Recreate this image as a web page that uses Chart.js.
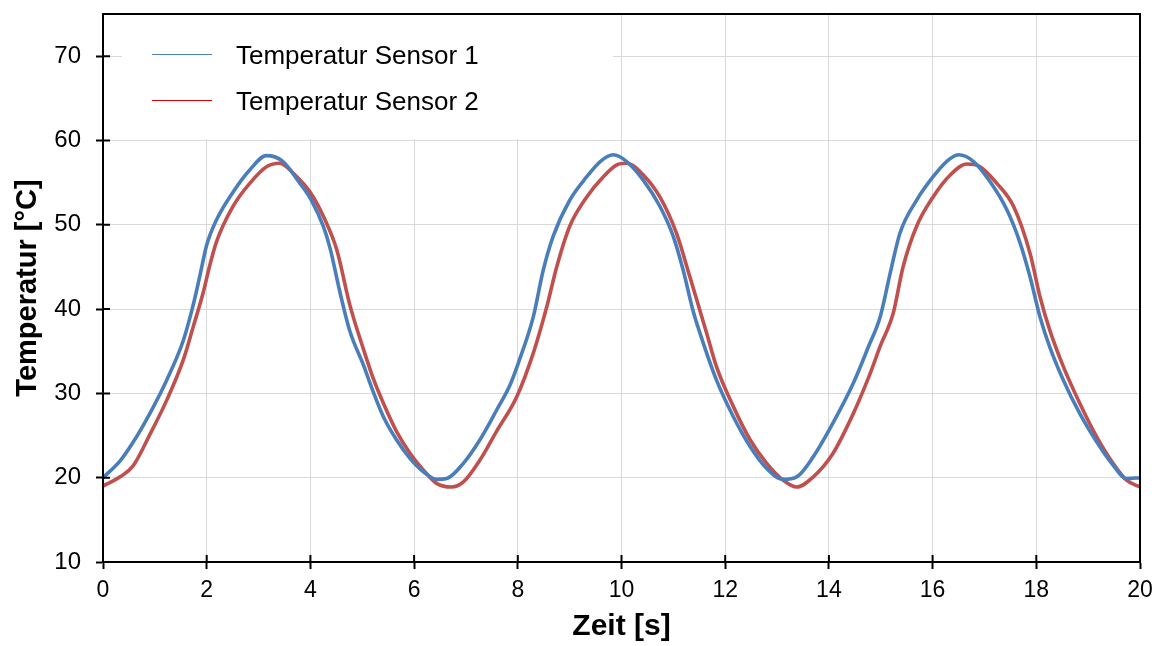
<!DOCTYPE html>
<html>
<head>
<meta charset="utf-8">
<script src="https://cdn.jsdelivr.net/npm/chart.js@4"></script>
<style>
  html, body { margin: 0; padding: 0; background: #fff; }
  #wrap { width: 1160px; height: 646px; }
</style>
</head>
<body>
<div id="wrap"><canvas id="tempChart" width="1160" height="646"></canvas></div>
<script>
// Zeitpunkte [s] und Temperaturen [°C]
const zeit1 = [0, 0.33, 0.58, 0.91, 1.23, 1.55, 1.74, 1.87, 2.0, 2.19, 2.51, 2.83, 3.15, 3.45, 3.8, 4.02, 4.25, 4.38, 4.57, 4.76, 5.02, 5.21, 5.41, 5.66, 5.92, 6.18, 6.44, 6.63, 6.95, 7.27, 7.59, 7.85, 8.01, 8.3, 8.49, 8.68, 9.0, 9.33, 9.59, 9.84, 10.1, 10.42, 10.74, 11.0, 11.19, 11.38, 11.51, 11.83, 12.16, 12.48, 12.8, 13.12, 13.38, 13.7, 14.08, 14.47, 14.76, 14.99, 15.18, 15.37, 15.69, 16.01, 16.27, 16.5, 16.79, 17.11, 17.43, 17.69, 17.88, 18.07, 18.26, 18.52, 18.84, 19.16, 19.48, 19.74, 20];
const sensor1 = [20.0, 22.0, 24.2, 27.7, 31.6, 36.3, 40.5, 44.0, 47.6, 50.6, 53.9, 56.5, 58.2, 57.6, 54.9, 52.9, 49.8, 47.2, 42.0, 37.4, 33.4, 30.2, 27.2, 24.5, 22.3, 20.7, 19.8, 19.9, 21.7, 24.5, 28.0, 31.0, 33.6, 39.1, 44.6, 48.6, 52.9, 55.7, 57.5, 58.3, 57.5, 55.3, 52.2, 48.6, 44.6, 39.8, 37.2, 31.6, 27.2, 23.7, 21.1, 19.8, 20.1, 22.5, 26.5, 31.2, 35.5, 39.1, 44.2, 49.0, 52.9, 55.7, 57.5, 58.3, 57.5, 55.1, 51.8, 47.8, 43.8, 39.1, 35.5, 31.6, 27.6, 24.3, 21.5, 19.9, 20.0];

const zeit2 = [0, 0.33, 0.58, 0.91, 1.23, 1.55, 1.74, 1.93, 2.06, 2.19, 2.51, 2.83, 3.16, 3.41, 3.67, 3.99, 4.25, 4.51, 4.76, 5.02, 5.21, 5.41, 5.66, 5.92, 6.18, 6.44, 6.72, 6.95, 7.27, 7.59, 7.98, 8.3, 8.56, 8.75, 9.0, 9.33, 9.65, 9.91, 10.1, 10.42, 10.74, 11.06, 11.32, 11.64, 11.83, 12.16, 12.48, 12.8, 13.12, 13.38, 13.7, 14.08, 14.47, 14.76, 14.99, 15.24, 15.43, 15.69, 16.01, 16.34, 16.66, 16.91, 17.24, 17.56, 17.88, 18.07, 18.26, 18.52, 18.84, 19.16, 19.48, 19.74, 20];
const sensor2 = [19.0, 20.1, 21.4, 25.2, 29.2, 34.0, 37.9, 41.9, 45.2, 48.0, 52.2, 54.9, 56.9, 57.3, 56.1, 53.9, 51.0, 47.0, 40.5, 35.3, 31.8, 28.8, 25.5, 22.9, 20.9, 19.3, 18.9, 19.5, 22.1, 25.5, 29.6, 34.8, 40.3, 45.0, 49.8, 53.3, 55.7, 57.1, 57.3, 55.9, 53.3, 49.0, 43.8, 37.2, 33.2, 28.4, 24.5, 21.7, 19.7, 18.9, 20.1, 22.9, 27.6, 31.8, 35.6, 39.5, 45.0, 49.8, 53.3, 55.9, 57.2, 56.9, 54.9, 52.2, 46.6, 41.5, 37.5, 33.2, 28.8, 24.9, 21.7, 19.7, 18.9];

const labels = ['Temperatur Sensor 1', 'Temperatur Sensor 2'];
const legendColors = ['#4f81bd', '#e00000'];

const FONT = '"Liberation Sans", Arial, sans-serif';

// Ticks laufen im Original über die Achse hinweg -> inneren Teil nachzeichnen, Rahmen oben/rechts
const frameTicks = {
  id: 'frameTicks',
  afterDraw(chart) {
    const { ctx, chartArea: a, scales } = chart;
    ctx.save();
    ctx.strokeStyle = '#000';
    ctx.lineWidth = 2;
    ctx.beginPath();
    scales.x.ticks.forEach(t => {
      const px = scales.x.getPixelForValue(t.value);
      ctx.moveTo(px, a.bottom);
      ctx.lineTo(px, a.bottom - 7);
    });
    scales.y.ticks.forEach(t => {
      const py = scales.y.getPixelForValue(t.value);
      ctx.moveTo(a.left, py);
      ctx.lineTo(a.left + 7, py);
    });
    ctx.stroke();
    ctx.strokeRect(a.left, a.top, a.right - a.left, a.bottom - a.top);
    ctx.restore();
  }
};

// Legende innerhalb der Zeichenfläche mit weißem Hintergrund
const innerLegend = {
  id: 'innerLegend',
  beforeDatasetsDraw(chart) {
    const { ctx, chartArea: a } = chart;
    ctx.save();
    ctx.fillStyle = '#fff';
    ctx.fillRect(a.left + 19, a.top + 1, 491, 124);
    ctx.font = '26px ' + FONT;
    ctx.textBaseline = 'middle';
    labels.forEach((lab, i) => {
      const y = Math.round(a.top + 40 + i * 46) + 0.5;
      ctx.strokeStyle = legendColors[i];
      ctx.lineWidth = 1;
      ctx.beginPath();
      ctx.moveTo(a.left + 49, y);
      ctx.lineTo(a.left + 109, y);
      ctx.stroke();
      ctx.fillStyle = '#000';
      ctx.fillText(lab, a.left + 133, y + 2);
    });
    ctx.restore();
  }
};

const ctx = document.getElementById('tempChart').getContext('2d');
new Chart(ctx, {
  type: 'line',
  data: {
    datasets: [
      {
        label: labels[0],
        data: zeit1.map((t, i) => ({ x: t, y: sensor1[i] })),
        borderColor: '#4a7ebb',
        borderWidth: 3.6
      },
      {
        label: labels[1],
        data: zeit2.map((t, i) => ({ x: t, y: sensor2[i] })),
        borderColor: '#c0504d',
        borderWidth: 3.6
      }
    ]
  },
  options: {
    responsive: false,
    animation: false,
    layout: { padding: { top: 14, right: 20, left: 0, bottom: 0 } },
    elements: {
      point: { radius: 0 },
      line: { tension: 0.4, cubicInterpolationMode: 'monotone', fill: false }
    },
    plugins: {
      legend: { display: false },
      tooltip: { enabled: false }
    },
    scales: {
      x: {
        type: 'linear',
        min: 0,
        max: 20,
        afterFit: s => { s.height = 84; s.paddingLeft = 0; s.paddingRight = 0; },
        ticks: { stepSize: 2, color: '#000', padding: 8, font: { family: FONT, size: 23 } },
        grid: { color: '#d9d9d9', lineWidth: 1, tickColor: '#000', tickLength: 7, tickWidth: 2 },
        border: { color: '#000', width: 2 },
        title: {
          display: true,
          text: 'Zeit [s]',
          color: '#000',
          padding: { top: 0, bottom: 1 },
          font: { family: FONT, size: 30, weight: 'bold' }
        }
      },
      y: {
        min: 10,
        max: 75,
        afterFit: s => { s.width = 103; s.paddingTop = 0; s.paddingBottom = 0; },
        afterBuildTicks: s => { s.ticks = s.ticks.filter(t => t.value % 10 === 0); },
        ticks: { stepSize: 10, color: '#000', padding: 15, font: { family: FONT, size: 24 } },
        grid: { color: '#d9d9d9', lineWidth: 1, tickColor: '#000', tickLength: 7, tickWidth: 2 },
        border: { color: '#000', width: 2 },
        title: {
          display: true,
          text: 'Temperatur [°C]',
          color: '#000',
          padding: { top: 11, bottom: 0 },
          font: { family: FONT, size: 29, weight: 'bold' }
        }
      }
    }
  },
  plugins: [innerLegend, frameTicks]
});
</script>
</body>
</html>
